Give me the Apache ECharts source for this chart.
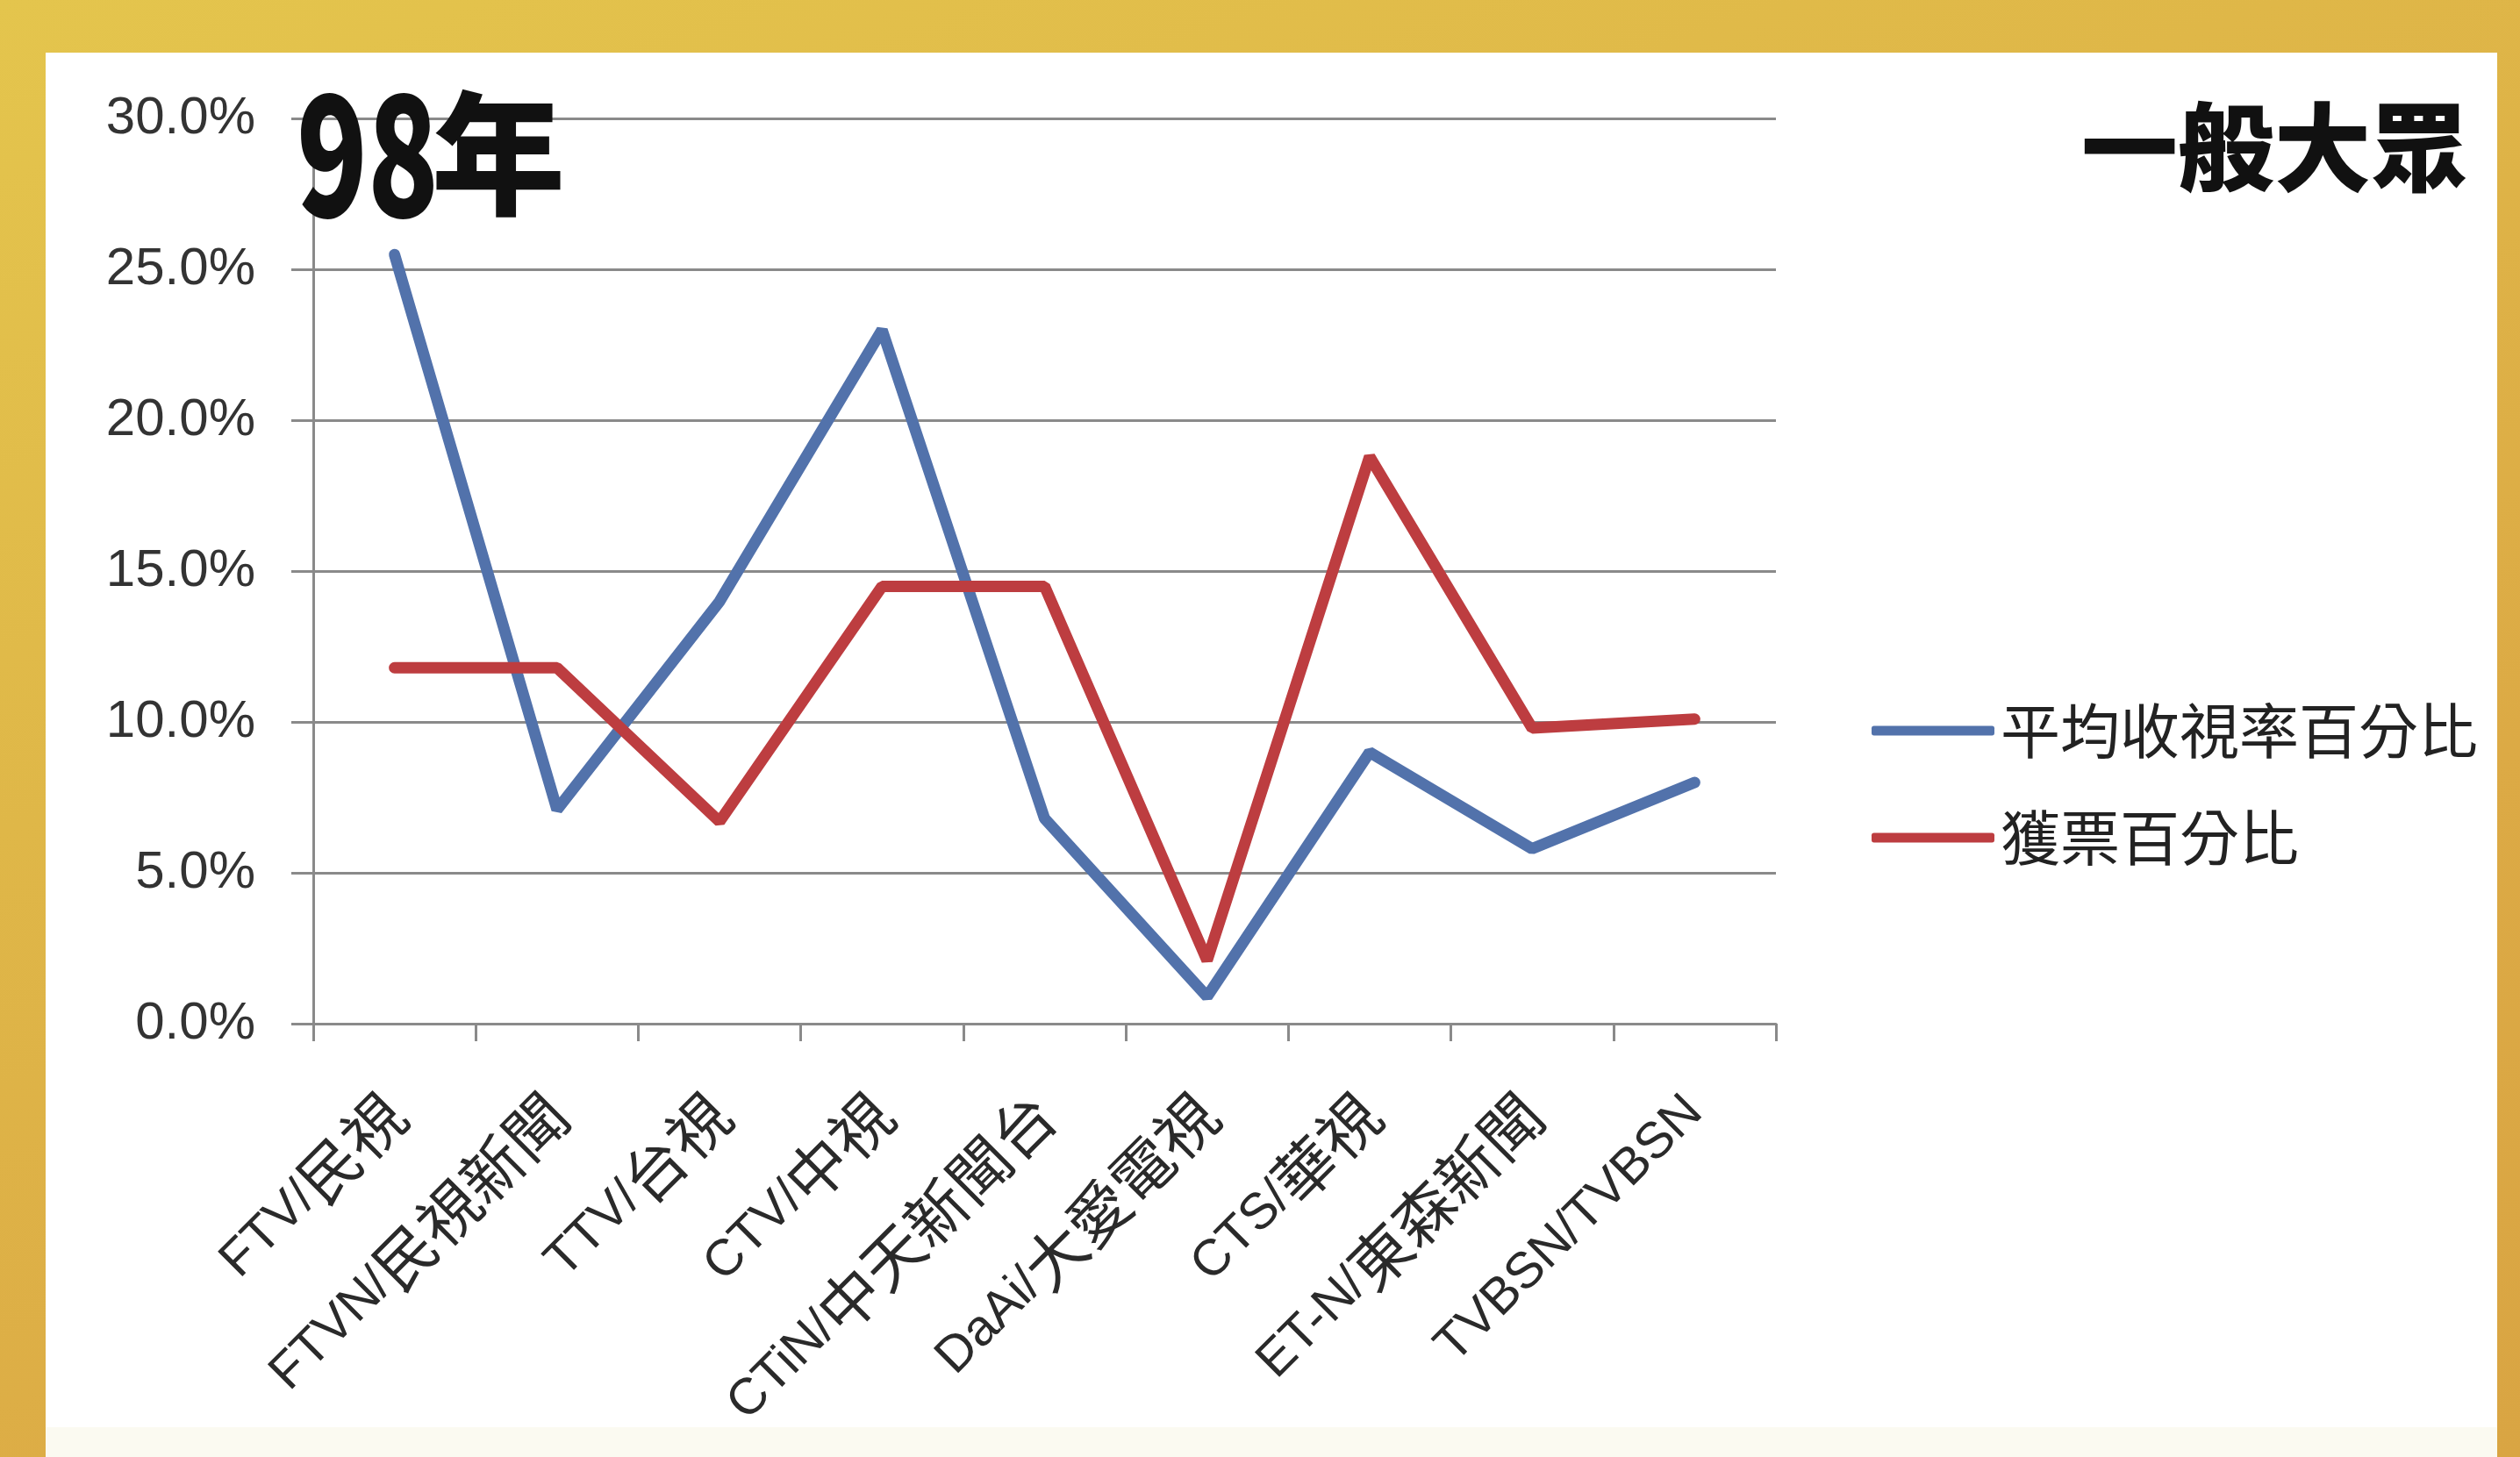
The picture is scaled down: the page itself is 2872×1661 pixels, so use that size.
<!DOCTYPE html>
<html>
<head>
<meta charset="utf-8">
<script src="https://cdn.jsdelivr.net/npm/echarts@6/dist/echarts.min.js"></script>
<style>
html,body{margin:0;padding:0;width:100%;height:100%;overflow:hidden;}
body{background:linear-gradient(160deg,#e4c54d 0%,#dfb748 35%,#dcaa45 70%,#d9a543 100%);}
#chart{width:2872px;height:1661px;}
</style>
</head>
<body>
<div id="chart"></div>
<script>
const categories = ['FTV/民視','FTVN/民視新聞','TTV/台視','CTV/中視','CTiN/中天新聞台','DaAi/大愛電視','CTS/華視','ET-N/東森新聞','TVBSN/TVBSN'];
const ratingShare = [0.255, 0.071, 0.140, 0.230, 0.068, 0.009, 0.090, 0.058, 0.080];
const voteShare = [0.118, 0.118, 0.067, 0.145, 0.145, 0.021, 0.188, 0.098, 0.101];
const seriesNames = ['平均收視率百分比','獲票百分比'];
const yTicks = {min: 0, max: 0.3, interval: 0.05};
const titleYear = '98年';
const titleGroup = '一般大眾';

const chart = echarts.init(document.getElementById('chart'), null, {renderer:'canvas'});
const latin = '"Liberation Sans", Arial, "Noto Sans CJK TC", sans-serif';
const cjk = '"Noto Sans CJK TC", "Noto Sans CJK SC", sans-serif';

chart.setOption({
  backgroundColor: 'transparent',
  animation: false,
  graphic: [
    {type:'rect', z:-10, shape:{x:52, y:60, width:2794, height:1601}, style:{fill:'#ffffff'}},
    {type:'rect', z:-9, shape:{x:52, y:1627, width:2794, height:34}, style:{fill:'#fbfaf1'}},
    {type:'text', z:10, x:338, y:175, scaleX:0.7,
      style:{text:titleYear.slice(0,2), font:'900 190px ' + cjk, fill:'#111', textAlign:'left', textVerticalAlign:'middle'}},
    {type:'text', z:10, x:492, y:175,
      style:{text:titleYear.slice(2), font:'900 152px ' + cjk, fill:'#111', textAlign:'left', textVerticalAlign:'middle'}},
    {type:'text', z:10, x:2812, y:168,
      style:{text:titleGroup, font:'900 110px ' + cjk, fill:'#111', textAlign:'right', textVerticalAlign:'middle'}}
  ],
  legend: {
    orient: 'vertical',
    left: 2128,
    top: 792,
    itemWidth: 140,
    itemHeight: 11,
    itemGap: 50,
    icon: 'roundRect',
    textStyle: {fontSize: 68, lineHeight: 72, fontFamily: cjk, color: '#222', padding:[0,0,0,2]},
    data: seriesNames
  },
  grid: {left: 357, right: 848, top: 135.5, bottom: 494, containLabel: false},
  xAxis: {
    type: 'category',
    data: categories,
    boundaryGap: true,
    axisLine: {show:true, lineStyle:{color:'#8a8a8a', width:3}},
    axisTick: {show:true, length:20, alignWithLabel:false, lineStyle:{color:'#8a8a8a', width:3}},
    axisLabel: {
      rotate: 45,
      margin: 92,
      interval: 0,
      fontSize: 58,
      fontFamily: latin,
      color: '#2a2a2a',
      formatter: v => v.replace(/([\u3000-\u9fff\uf900-\ufaff]+)/g, '{c|$1}'),
      rich: {c: {fontSize: 70, fontFamily: cjk, color: '#2a2a2a'}}
    }
  },
  yAxis: {
    type: 'value',
    min: yTicks.min,
    max: yTicks.max,
    interval: yTicks.interval,
    axisLine: {show:true, lineStyle:{color:'#8a8a8a', width:3}},
    axisTick: {show:true, length:25, lineStyle:{color:'#8a8a8a', width:3}},
    splitLine: {show:true, lineStyle:{color:'#8a8a8a', width:3}},
    axisLabel: {
      margin: 66,
      fontSize: 60,
      fontFamily: latin,
      color: '#333333',
      formatter: v => (v*100).toFixed(1) + '%'
    }
  },
  series: [
    {name: seriesNames[0], type:'line', data: ratingShare, symbol:'none', showSymbol:false,
      itemStyle:{color:'#5272ab'}, lineStyle:{color:'#5272ab', width:13, cap:'round'}},
    {name: seriesNames[1], type:'line', data: voteShare, symbol:'none', showSymbol:false,
      itemStyle:{color:'#bd3d40'}, lineStyle:{color:'#bd3d40', width:13, cap:'round'}}
  ]
});
</script>
</body>
</html>
